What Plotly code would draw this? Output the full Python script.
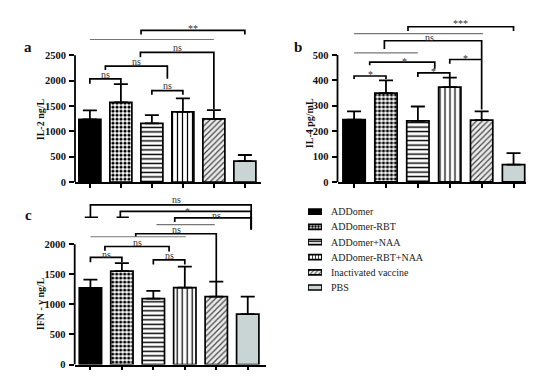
import plotly.graph_objects as go

W, H = 550, 378

groups = ["ADDomer", "ADDomer-RBT", "ADDomer+NAA", "ADDomer-RBT+NAA", "Inactivated vaccine", "PBS"]

il2_mean = [1235, 1570, 1160, 1385, 1245, 415]
il2_err = [180, 360, 160, 265, 175, 120]
il4_mean = [245, 350, 240, 373, 243, 68]
il4_err = [33, 50, 57, 38, 35, 45]
ifn_mean = [1275, 1553, 1095, 1280, 1128, 839]
ifn_err = [136, 131, 131, 349, 251, 289]

il2_ticks = [0, 500, 1000, 1500, 2000, 2500]
il4_ticks = [0, 100, 200, 300, 400, 500]
ifn_ticks = [0, 500, 1000, 1500, 2000]

# significance brackets: (x_left, x_right, y, left_leg_bottom, right_leg_bottom)
il2_brackets = [(0, 1, 2035, 1940, 1940), (0.5, 2.5, 2287, 2210, 2035), (2, 3, 1802, 1720, 1720),
                (1.63, 4, 2558, 2460, 1440), (1.65, 5, 2990, 2907, 2907)]
il2_thin = [(0, 4, 2810)]
il2_labels = [(0.5, 2118, "ns"), (1.5, 2384, "ns"), (2.5, 1899, "ns"), (2.82, 2655, "ns"), (3.32, 3070, "**")]

il4_brackets = [(0, 1, 417, 405, 405), (0.49, 2.53, 472, 459, 446), (2, 3, 429, 413, 413),
                (3, 4, 482, 465, 482), (0.95, 4, 556, 523, 285), (1.69, 5, 611, 594, 594)]
il4_thin = [(0, 2, 508), (0, 4.04, 584)]
il4_labels = [(0.5, 431, "*"), (1.57, 482, "*"), (2.5, 442, "*"), (3.5, 494, "*"), (2.37, 569, "ns"), (3.34, 631, "***")]

ifn_brackets = [(0, 1, 1782, 1700, 1700), (2, 3, 1738, 1661, 1661), (0.46, 2.5, 1962, 1890, 1880),
                (1.44, 4, 2174, 2119, 1380), (2.68, 5.11, 2436, 2370, 2245), (0.95, 5.11, 2544, 2446, 2245),
                (0, 5.11, 2653, 2446, 2245)]
ifn_tees = [(0.83, 1.22, 2446), (-0.18, 0.24, 2446)]
ifn_thin = [(0, 3.03, 2125), (2.1, 3.95, 2326)]
ifn_labels = [(0.5, 1836, "ns"), (2.5, 1809, "ns"), (1.5, 2028, "ns"), (2.73, 2245, "ns"),
              (4.0, 2474, "ns"), (3.1, 2572, "*"), (2.73, 2736, "ns")]

fill_colors = ["black", "white", "white", "white", "#ececec", "#c9d5d5"]
pat_shapes = ["", ".", "-", "|", "/", ""]
pat_fg = ["black", "black", "black", "black", "#444444", "#c9d5d5"]
pat_size = [4, 4, 4.5, 5, 4, 4]
pat_sol = [0.3, 0.5, 0.32, 0.25, 0.3, 0.3]

SERIF = "Liberation Serif"


def px_x(p):
    return p / W


def px_y(p):
    return 1 - p / H


def bar_marker(k, size=None):
    m = dict(color=fill_colors[k], line=dict(color="black", width=1.7))
    if pat_shapes[k]:
        m["pattern"] = dict(shape=pat_shapes[k], fgcolor=pat_fg[k], bgcolor=fill_colors[k],
                            size=size or pat_size[k], solidity=pat_sol[k], fillmode="replace")
    return m


panels = [
    dict(xd=(67, 253), xr=(-0.48, 5.52), yd=(177, 9.3), yr=(0, 3250), mean=il2_mean, err=il2_err,
         ticks=il2_ticks, br=il2_brackets, thin=il2_thin, labels=il2_labels, tees=[],
         title="IL-2 ng/L", tx=32, ty=113, letter="a", lx=20, ly=40, width=0.71),
    dict(xd=(329.5, 518.3), xr=(-0.52, 5.40), yd=(176.7, 9.0), yr=(0, 650), mean=il4_mean, err=il4_err,
         ticks=il4_ticks, br=il4_brackets, thin=il4_thin, labels=il4_labels, tees=[],
         title="IL-4 pg/mL", tx=301, ty=117, letter="b", lx=290, ly=40, width=0.70),
    dict(xd=(66.7, 258.3), xr=(-0.5, 5.59), yd=(362.3, 191.1), yr=(0, 2800), mean=ifn_mean, err=ifn_err,
         ticks=ifn_ticks, br=ifn_brackets, thin=ifn_thin, labels=ifn_labels, tees=ifn_tees,
         title="IFN - γ ng/L", tx=32, ty=301, letter="c", lx=20, ly=210, width=0.71),
]

fig = go.Figure()
shapes = []
annotations = []
layout = dict(width=W, height=H, margin=dict(l=0, r=0, t=0, b=0), plot_bgcolor="white",
              paper_bgcolor="white", showlegend=False, barmode="overlay")

for i, p in enumerate(panels, start=1):
    xa = "x" if i == 1 else f"x{i}"
    ya = "y" if i == 1 else f"y{i}"
    for k in range(6):
        fig.add_trace(go.Bar(
            x=[k], y=[p["mean"][k]], width=p["width"], xaxis=xa, yaxis=ya,
            marker=bar_marker(k),
            error_y=dict(type="data", array=[p["err"][k]], arrayminus=[0], symmetric=False,
                         color="black", thickness=1.8, width=7),
            hoverinfo="skip", name=groups[k]))
    layout["xaxis" if i == 1 else f"xaxis{i}"] = dict(
        domain=[px_x(p["xd"][0]), px_x(p["xd"][1])], range=list(p["xr"]), anchor=ya,
        showline=True, linecolor="black", linewidth=1.8, ticks="outside", ticklen=4,
        tickwidth=1.5, tickcolor="black", tickvals=list(range(6)), showticklabels=False,
        showgrid=False, zeroline=False, fixedrange=True)
    ytop = p["ticks"][-1]
    layout["yaxis" if i == 1 else f"yaxis{i}"] = dict(
        domain=[px_y(p["yd"][0]), px_y(p["yd"][1])], range=list(p["yr"]), anchor=xa,
        showline=False, ticks="outside", ticklen=5, tickwidth=1.5, tickcolor="black",
        tickvals=p["ticks"], ticktext=[str(t) for t in p["ticks"]],
        tickfont=dict(family=SERIF, size=10.5, color="#111", weight="bold"),
        showgrid=False, zeroline=False, fixedrange=True, ticklabelstandoff=1)
    shapes.append(dict(type="line", xref=f"{xa} domain", yref=ya, x0=0, x1=0, y0=0, y1=ytop,
                       line=dict(color="black", width=1.8)))
    for (xl, xr, yy, yl, yr) in p["br"]:
        shapes.append(dict(type="path", xref=xa, yref=ya,
                           path=f"M{xl},{yl} L{xl},{yy} L{xr},{yy} L{xr},{yr}",
                           line=dict(color="black", width=1.7)))
    for (xl, xr, yy) in p["tees"]:
        shapes.append(dict(type="line", xref=xa, yref=ya, x0=xl, x1=xr, y0=yy, y1=yy,
                           line=dict(color="black", width=1.5)))
    for (xl, xr, yy) in p["thin"]:
        shapes.append(dict(type="line", xref=xa, yref=ya, x0=xl, x1=xr, y0=yy, y1=yy,
                           line=dict(color="#777777", width=1.1)))
    for (lx, ly, txt) in p["labels"]:
        annotations.append(dict(xref=xa, yref=ya, x=lx, y=ly, text=txt, showarrow=False,
                                xanchor="center", yanchor="middle",
                                yshift=-2 if "*" in txt else 0,
                                font=dict(family=SERIF, size=10, color="#333")))
    annotations.append(dict(xref="paper", yref="paper", x=px_x(p["tx"]), y=px_y(p["ty"]), text=p["title"],
                            textangle=-90, showarrow=False, xanchor="center", yanchor="middle",
                            font=dict(family=SERIF, size=10, color="#111", weight="bold")))
    annotations.append(dict(xref="paper", yref="paper", x=px_x(p["lx"]), y=px_y(p["ly"]), text=p["letter"],
                            showarrow=False, xanchor="center", yanchor="middle",
                            font=dict(family=SERIF, size=15, color="#111", weight="bold")))

# legend drawn as a small hidden subplot of patches
for k in range(6):
    fig.add_trace(go.Bar(
        x=[1], y=[k], orientation="h", width=0.33, xaxis="x4", yaxis="y4",
        marker=bar_marker(k, size=3), hoverinfo="skip", name=groups[k]))
leg_top, leg_step = 207, 15.4
layout["xaxis4"] = dict(domain=[px_x(300), px_x(314)], range=[0, 1], anchor="y4", visible=False, fixedrange=True)
layout["yaxis4"] = dict(domain=[px_y(leg_top + 5.5 * leg_step), px_y(leg_top - 0.5 * leg_step)],
                        range=[5.5, -0.5], anchor="x4", visible=False, fixedrange=True)
for k, g in enumerate(groups):
    annotations.append(dict(xref="paper", yref="y4", x=px_x(321), y=k, text=g, showarrow=False,
                            xanchor="left", yanchor="middle",
                            font=dict(family=SERIF, size=10, color="#222")))

layout["shapes"] = shapes
layout["annotations"] = annotations
fig.update_layout(**layout)
fig.write_html("out.html")
